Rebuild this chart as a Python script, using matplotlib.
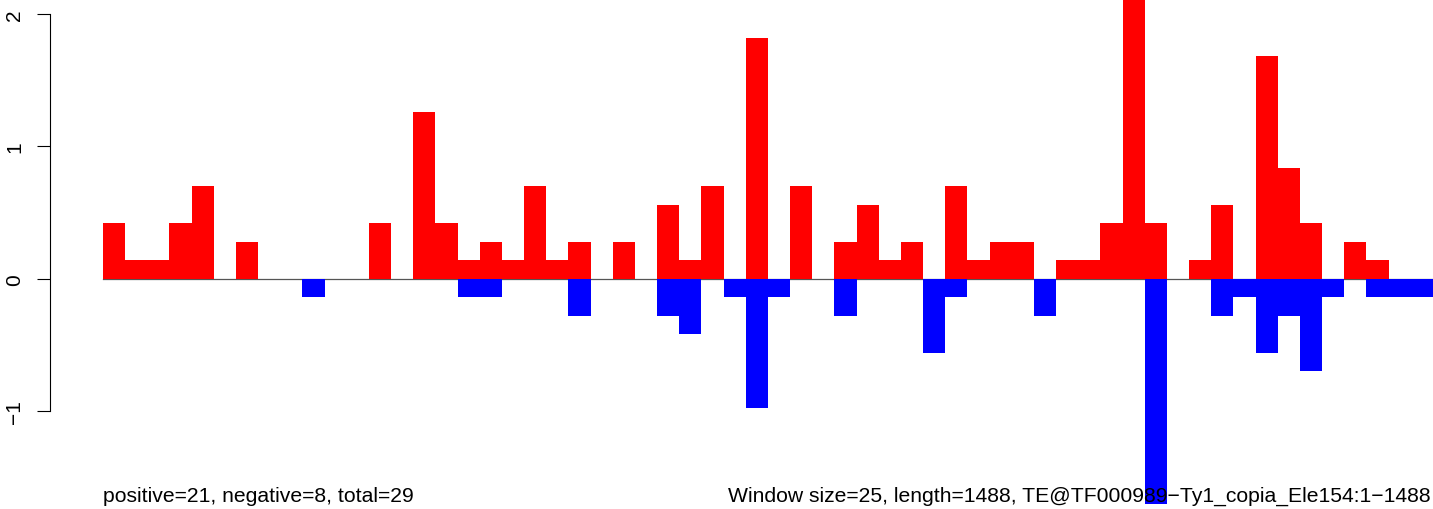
import numpy as np
import matplotlib
matplotlib.use("Agg")
import matplotlib.pyplot as plt

# window index (25 bp windows over 1488 bp)
windows = list(range(60))

# positive (red) and negative (blue) scores per window
positive = [
    0.42, 0.14, 0.14, 0.42, 0.70, 0.00, 0.28, 0.00, 0.00, 0.00,
    0.00, 0.00, 0.42, 0.00, 1.26, 0.42, 0.14, 0.28, 0.14, 0.70,
    0.14, 0.28, 0.00, 0.28, 0.00, 0.56, 0.14, 0.70, 0.00, 1.82,
    0.00, 0.70, 0.00, 0.28, 0.56, 0.14, 0.28, 0.00, 0.70, 0.14,
    0.28, 0.28, 0.00, 0.14, 0.14, 0.42, 2.24, 0.42, 0.00, 0.14,
    0.56, 0.00, 1.68, 0.84, 0.42, 0.00, 0.28, 0.14, 0.00, 0.00,
]
negative = [
    0.00, 0.00, 0.00, 0.00, 0.00, 0.00, 0.00, 0.00, 0.00, -0.14,
    0.00, 0.00, 0.00, 0.00, 0.00, 0.00, -0.14, -0.14, 0.00, 0.00,
    0.00, -0.28, 0.00, 0.00, 0.00, -0.28, -0.42, 0.00, -0.14, -0.98,
    -0.14, 0.00, 0.00, -0.28, 0.00, 0.00, 0.00, -0.56, -0.14, 0.00,
    0.00, 0.00, -0.28, 0.00, 0.00, 0.00, 0.00, -1.70, 0.00, 0.00,
    -0.28, -0.14, -0.56, -0.28, -0.70, -0.14, 0.00, -0.14, -0.14, -0.14,
]

yticks = [-1, 0, 1, 2]
left_label = "positive=21, negative=8, total=29"
right_label = "Window size=25, length=1488, TE@TF000989\u2212Ty1_copia_Ele154:1\u22121488"

plt.rcParams["font.family"] = ["Liberation Sans", "DejaVu Sans"]

W, H = 1433, 510
fig = plt.figure(figsize=(W / 100, H / 100), dpi=100)
ax = fig.add_axes([50 / W, 98 / H, (W - 50) / W, 397 / H])

x = np.array(windows)
ax.plot([0, 60], [0, 0], color="#555555", linewidth=0.9, zorder=1)
ax.bar(x, positive, width=1.0, align="edge", color="#ff0000",
       linewidth=0, clip_on=False, zorder=2)
ax.bar(x, negative, width=1.0, align="edge", color="#0000ff",
       linewidth=0, clip_on=False, zorder=3)

ax.set_xlim(-53 / 22.17, 60)
ax.set_ylim(-1, 2)
ax.set_yticks(yticks)
ax.set_yticklabels([str(t).replace("-", "\u2212") for t in yticks],
                   rotation=90, va="center", fontsize=15)
ax.tick_params(axis="y", length=9.5, width=0.8, pad=9)
for s in ["top", "right", "bottom"]:
    ax.spines[s].set_visible(False)
ax.spines["left"].set_bounds(-1, 2)
ax.spines["left"].set_linewidth(0.8)
ax.set_xticks([])
ax.patch.set_alpha(0)

# bottom annotations, drawn above the bars
ax.text(103 / W, 8 / H, left_label, transform=fig.transFigure, ha="left",
        va="baseline", fontsize=15.2, zorder=10, clip_on=False)
ax.text(1431 / W, 8 / H, right_label, transform=fig.transFigure, ha="right",
        va="baseline", fontsize=15.2, zorder=10, clip_on=False)

fig.savefig("out.png", dpi=100)
